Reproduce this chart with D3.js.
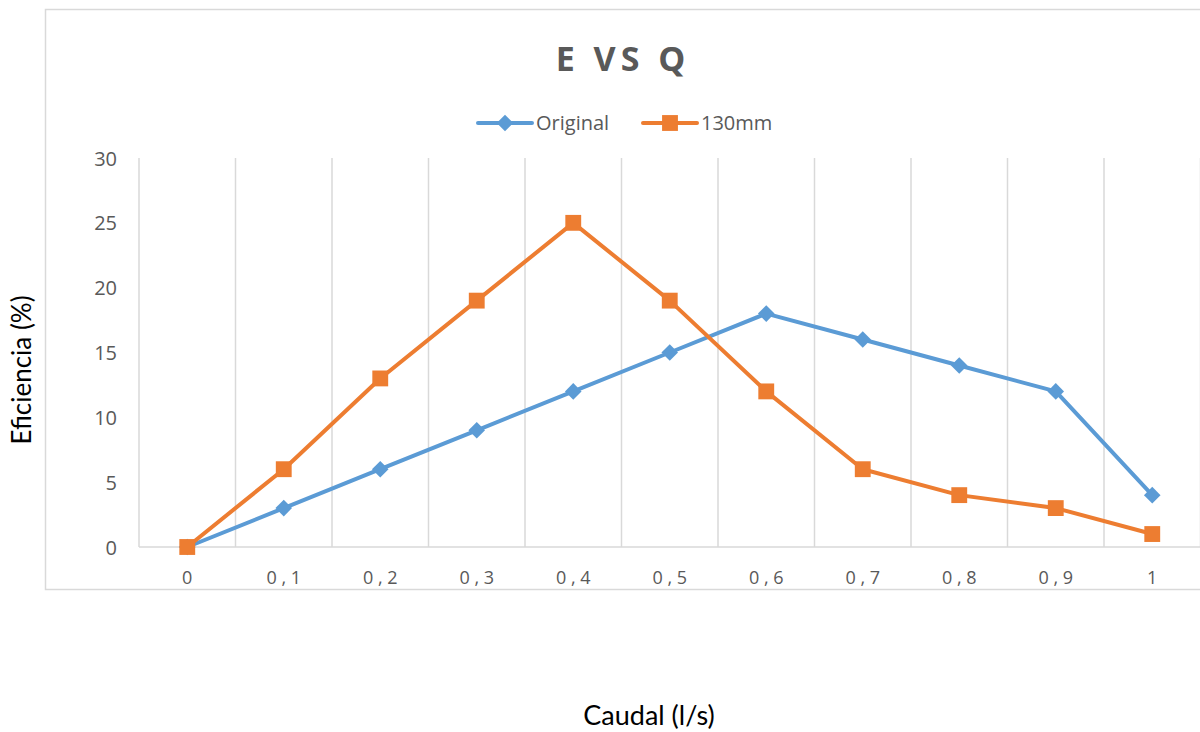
<!DOCTYPE html>
<html>
<head>
<meta charset="utf-8">
<script src="https://cdn.jsdelivr.net/npm/d3@7"></script>
<style>
  html, body { margin: 0; padding: 0; background: #fff; }
  svg { display: block; }
</style>
</head>
<body>
<svg id="chart" width="1200" height="732"></svg>
<script>
// Flow categories (l/s) and efficiency series (%)
const categories = ["0", "0,1", "0,2", "0,3", "0,4", "0,5", "0,6", "0,7", "0,8", "0,9", "1"];
const originalValues = [0, 3, 6, 9, 12, 15, 18, 16, 14, 12, 4];
const mm130Values = [0, 6, 13, 19, 25, 19, 12, 6, 4, 3, 1];
const yTicks = [0, 5, 10, 15, 20, 25, 30];

const series = [
  { name: "Original", values: originalValues, color: "#5B9BD5", marker: "diamond" },
  { name: "130mm", values: mm130Values, color: "#ED7D31", marker: "square" }
];

const svg = d3.select("#chart");
const plot = { left: 139, right: 1200.5, top: 158, bottom: 547 };
const textGray = "#595959";

// Chart area border
svg.append("rect")
  .attr("x", 45.5).attr("y", 9.5)
  .attr("width", 1160).attr("height", 580)
  .attr("fill", "#fff").attr("stroke", "#D9D9D9").attr("stroke-width", 1.5);

const x = d3.scaleBand().domain(categories).range([plot.left, plot.right]).padding(0);
const y = d3.scaleLinear().domain([0, 30]).range([plot.bottom, plot.top]);

// Vertical gridlines at category boundaries
const g = svg.append("g");
const bounds = categories.map(c => x(c)).concat([x(categories[categories.length - 1]) + x.bandwidth()]);
g.selectAll("line.grid").data(bounds).join("line")
  .attr("class", "grid")
  .attr("x1", d => d).attr("x2", d => d)
  .attr("y1", plot.top).attr("y2", plot.bottom)
  .attr("stroke", "#D9D9D9").attr("stroke-width", 1.5);

// Category axis line
g.append("line")
  .attr("x1", plot.left).attr("x2", plot.right)
  .attr("y1", plot.bottom).attr("y2", plot.bottom)
  .attr("stroke", "#D9D9D9").attr("stroke-width", 1.5);

// Y axis labels
const yAxis = d3.axisLeft(y).tickValues(yTicks).tickSize(0).tickPadding(0);
const yg = svg.append("g").attr("transform", `translate(${117},0)`).call(yAxis);
yg.select(".domain").remove();
yg.selectAll("text")
  .attr("font-family", "'Open Sans', sans-serif")
  .attr("font-size", 20).attr("fill", textGray)
  .attr("dy", "0.35em");

// X axis labels (digits spaced apart around the decimal comma)
const xAxis = d3.axisBottom(x).tickSize(0).tickPadding(0)
  .tickFormat(d => d.split("").join(" "));
const xg = svg.append("g").attr("transform", `translate(0,${plot.bottom})`).call(xAxis);
xg.select(".domain").remove();
xg.selectAll("text")
  .attr("y", 37)
  .attr("dy", 0)
  .attr("font-family", "'Open Sans', sans-serif")
  .attr("font-size", 18).attr("fill", textGray)
  .style("white-space", "pre");

// Lines and markers
const line = d3.line()
  .x((d, i) => x(categories[i]) + x.bandwidth() / 2)
  .y(d => y(d));

const diamond = d3.symbol().type(d3.symbolDiamond2).size(175);
const square = d3.symbol().type(d3.symbolSquare2).size(320);

series.forEach(s => {
  const sg = svg.append("g");
  sg.append("path")
    .attr("d", line(s.values))
    .attr("fill", "none").attr("stroke", s.color)
    .attr("stroke-width", 4).attr("stroke-linejoin", "round").attr("stroke-linecap", "round");
  sg.selectAll("path.m").data(s.values).join("path")
    .attr("class", "m")
    .attr("transform", (d, i) => `translate(${x(categories[i]) + x.bandwidth() / 2},${y(d)})`)
    .attr("d", s.marker === "diamond" ? diamond : square)
    .attr("fill", s.color);
});

// Title
svg.append("text")
  .attr("x", 623).attr("y", 71)
  .attr("text-anchor", "middle")
  .attr("font-family", "'Open Sans', sans-serif")
  .attr("font-weight", "bold").attr("font-size", 34)
  .attr("letter-spacing", 5)
  .attr("fill", textGray)
  .text("E VS Q");

// Legend
const legendItems = [
  { s: series[0], x0: 478 },
  { s: series[1], x0: 643 }
];
legendItems.forEach(({ s, x0 }) => {
  const ly = 123;
  svg.append("line")
    .attr("x1", x0).attr("x2", x0 + 54).attr("y1", ly).attr("y2", ly)
    .attr("stroke", s.color).attr("stroke-width", 4).attr("stroke-linecap", "round");
  svg.append("path")
    .attr("transform", `translate(${x0 + 27},${ly})`)
    .attr("d", s.marker === "diamond" ? diamond : square)
    .attr("fill", s.color);
  svg.append("text")
    .attr("x", x0 + 58).attr("y", ly).attr("dy", "0.35em")
    .attr("font-family", "'Open Sans', sans-serif")
    .attr("font-size", 20).attr("fill", textGray)
    .text(s.name);
});

// Axis titles
svg.append("text")
  .attr("transform", `translate(31,370) rotate(-90)`)
  .attr("text-anchor", "middle")
  .attr("font-family", "Lato, 'Liberation Sans', sans-serif")
  .attr("font-size", 26).attr("fill", "#000")
  .text("Eficiencia (%)");

svg.append("text")
  .attr("x", 649).attr("y", 725)
  .attr("text-anchor", "middle")
  .attr("font-family", "Lato, 'Liberation Sans', sans-serif")
  .attr("font-size", 27).attr("fill", "#000")
  .text("Caudal (l/s)");
</script>
</body>
</html>
